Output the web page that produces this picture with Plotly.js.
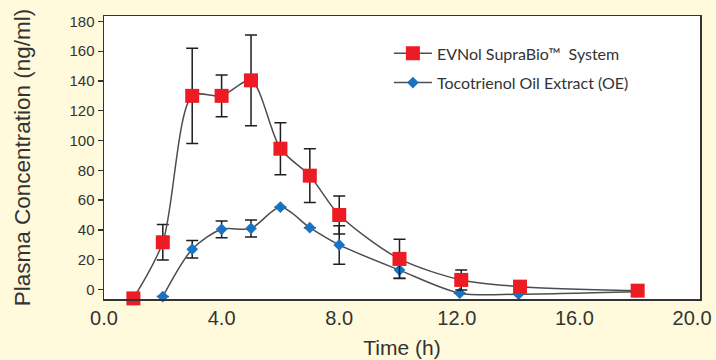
<!DOCTYPE html>
<html>
<head>
<meta charset="utf-8">
<script src="https://cdn.plot.ly/plotly-3.0.1.min.js"></script>
<style>
html,body{margin:0;padding:0;background:#FFFADC;}
#chart{width:716px;height:360px;}
</style>
</head>
<body>
<div id="chart"></div>
<script>
// Time points (h)
const timeEVNol = [1, 2, 3, 4, 5, 6, 7, 8, 10.05, 12.15, 14.15, 18.15];
const concEVNol = [-6, 31.7, 130, 130, 140.4, 94.5, 76.4, 50, 20.5, 6.4, 1.9, -0.8];
const errEVNol  = [0, 12, 32, 14, 30.5, 17.5, 18, 12.8, 13.2, 6.7, 0, 0];

const timeOE = [2, 3, 4, 5, 6, 7, 8, 10.05, 12.1, 14.1, 18.1];
const concOE = [-4.8, 27, 40.4, 41, 55.3, 41.5, 29.9, 13, -2.5, -3.2, -1.6];
const errOE  = [0, 5.8, 5.6, 5.7, 0, 0, 12.9, 5.5, 0, 0, 0];

const xTickVals = [0, 4, 8, 12, 16, 20];
const xTickText = ["0.0", "4.0", "8.0", "12.0", "16.0", "20.0"];
const yTickVals = [0, 20, 40, 60, 80, 100, 120, 140, 160, 180];

const nameEVNol = "EVNol SupraBio™\u00a0 System";
const nameOE = "Tocotrienol Oil Extract (OE)";

const lineStyle = {color: "#4d4d4d", width: 1.5, shape: "spline", smoothing: 0.8};
const errStyle = {type: "data", visible: true, color: "#1e1e1e", thickness: 1.5, width: 6};

const traces = [
  {
    x: timeOE, y: concOE, name: nameOE, legendgroup: "oe", legendrank: 2,
    type: "scatter", mode: "lines+markers",
    line: lineStyle,
    marker: {symbol: "diamond", size: 9, color: "#1874C2"},
    error_y: Object.assign({array: errOE}, errStyle),
    cliponaxis: false
  },
  {
    x: timeEVNol, y: concEVNol, name: nameEVNol, legendgroup: "ev", legendrank: 1,
    type: "scatter", mode: "lines+markers",
    line: lineStyle,
    marker: {symbol: "square", size: 14, color: "#ED1C24"},
    error_y: Object.assign({array: errEVNol}, errStyle),
    cliponaxis: false
  }
];

const layout = {
  width: 716, height: 360,
  margin: {l: 104, r: 16, t: 16, b: 61},
  paper_bgcolor: "#FFFADC",
  plot_bgcolor: "#FFFFFF",
  font: {family: "Liberation Sans, Arial, sans-serif", color: "#333333"},
  showlegend: true,
  legend: {
    x: 0.478, y: 0.928, xanchor: "left", yanchor: "top",
    bgcolor: "rgba(0,0,0,0)",
    font: {family: "Lato, sans-serif", size: 16, color: "#333333"},
    traceorder: "grouped",
    tracegroupgap: 5.5,
    itemwidth: 38
  },
  xaxis: {
    range: [0, 20.27],
    tickvals: xTickVals, ticktext: xTickText,
    ticks: "", showgrid: false, zeroline: false,
    showline: true, mirror: true, linecolor: "#333333", linewidth: 1.5,
    tickfont: {size: 20, color: "#333333"},
    title: {text: "Time (h)", font: {size: 21, color: "#333333"}, standoff: 13}
  },
  yaxis: {
    range: [-6.4, 183.6],
    tickvals: yTickVals,
    ticks: "outside", ticklen: 5, tickwidth: 1.3, tickcolor: "#333333",
    showgrid: false, zeroline: false,
    showline: true, mirror: true, linecolor: "#333333", linewidth: 1.5,
    tickfont: {size: 15, color: "#333333"},
    title: {text: "Plasma Concentration (ng/ml)", font: {size: 22.5, color: "#333333"}, standoff: 32}
  }
};

Plotly.newPlot("chart", traces, layout, {displayModeBar: false, staticPlot: true});
</script>
</body>
</html>
